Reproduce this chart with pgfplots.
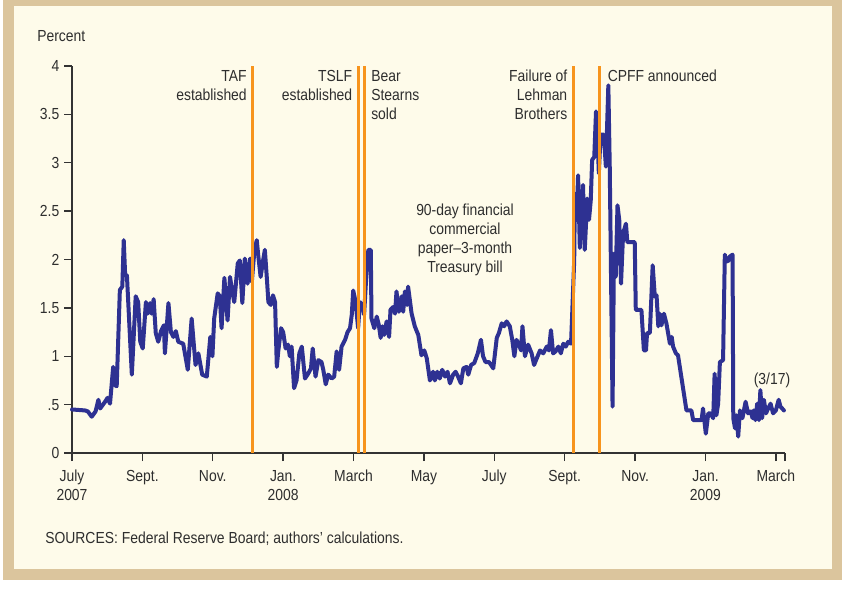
\documentclass[border=0pt]{standalone}
\usepackage{fontspec}
\setmainfont{Liberation Sans}[FakeStretch=0.87]
\usepackage{pgfplots}
\pgfplotsset{compat=1.18}
\definecolor{tanc}{HTML}{DBC59D}
\definecolor{creamc}{HTML}{FEFBEA}
\definecolor{bluec}{HTML}{2E3192}
\definecolor{orangec}{HTML}{F7941D}
\definecolor{txtc}{HTML}{2E2E2E}
\definecolor{axisc}{HTML}{333333}
\newcommand{\lblfont}{\fontsize{12pt}{14pt}\selectfont}
\begin{document}
\begin{tikzpicture}
\begin{scope}[x=0.75pt,y=-0.75pt]
\fill[white] (0,0) rectangle (853,593);
\fill[tanc] (3,0) rectangle (842,580);
\fill[creamc] (14,6) rectangle (832,569);
\end{scope}
\begin{axis}[
  at={(54pt,-339.75pt)}, anchor=south west,
  scale only axis, width=534.75pt, height=290.25pt,
  xmin=0, xmax=20.26, ymin=0, ymax=4,
  axis lines=left,
  axis line style={-, draw=axisc, line width=1.1pt},
  tick align=outside, major tick length=6pt,
  tick style={draw=axisc, line width=1pt},
  xtick={0,2,4,6,8,10,12,14,16,18,20},
  xticklabels={{July\\2007},{Sept.},{Nov.},{Jan.\\2008},{March},{May},{July},{Sept.},{Nov.},{Jan.\\2009},{March}},
  extra x ticks={20.26}, extra x tick labels={},
  extra x tick style={tick style={draw=axisc, line width=1pt}},
  ytick={0,0.5,1,1.5,2,2.5,3,3.5,4},
  yticklabels={0,.5,1,1.5,2,2.5,3,3.5,4},
  tick label style={font=\lblfont, text=txtc},
  xticklabel style={align=center, yshift=-3.5pt},
  /pgf/number format/assume math mode=true,
  clip=false,
]
\addplot[bluec, line width=3pt, line join=round, line cap=round] table {
x y
0.00 0.45
0.37 0.44
0.45 0.43
0.56 0.375
0.67 0.43
0.75 0.55
0.80 0.46
0.94 0.53
1.01 0.57
1.08 0.51
1.17 0.89
1.22 0.70
1.27 0.69
1.36 1.685
1.43 1.72
1.47 2.20
1.51 1.84
1.56 1.84
1.70 0.81
1.81 1.62
1.88 1.56
1.94 1.15
2.01 1.08
2.10 1.56
2.15 1.44
2.22 1.55
2.26 1.44
2.32 1.59
2.38 1.24
2.45 1.15
2.53 1.26
2.61 1.32
2.64 1.03
2.74 1.55
2.81 1.25
2.88 1.20
2.95 1.26
3.02 1.15
3.16 1.13
3.29 0.86
3.40 1.39
3.51 0.91
3.59 1.03
3.70 0.81
3.83 0.79
3.93 1.20
3.99 1.00
4.04 1.39
4.14 1.65
4.20 1.62
4.25 1.29
4.33 1.81
4.42 1.37
4.49 1.82
4.54 1.70
4.61 1.56
4.71 1.96
4.77 1.99
4.84 1.55
4.91 2.01
4.99 1.75
5.06 2.01
5.11 1.77
5.18 2.08
5.25 2.20
5.29 2.05
5.36 1.82
5.43 1.99
5.48 2.10
5.54 1.79
5.58 1.56
5.65 1.53
5.71 1.63
5.77 1.56
5.82 0.89
5.86 1.05
5.94 1.29
6.00 1.25
6.07 1.08
6.14 1.12
6.19 1.00
6.24 1.10
6.31 0.67
6.38 0.75
6.46 1.03
6.53 1.10
6.62 0.77
6.71 0.82
6.79 0.875
6.84 1.08
6.92 0.79
7.00 0.96
7.09 0.94
7.14 0.86
7.21 0.71
7.28 0.81
7.38 0.77
7.45 0.79
7.52 1.05
7.59 0.86
7.66 1.10
7.76 1.17
7.83 1.25
7.90 1.29
7.95 1.43
7.99 1.68
8.06 1.56
8.13 1.29
8.18 1.56
8.25 1.53
8.30 1.43
8.35 1.75
8.42 2.10
8.49 2.10
8.51 1.39
8.59 1.29
8.66 1.41
8.72 1.32
8.77 1.19
8.82 1.31
8.87 1.22
8.94 1.36
9.01 1.20
9.05 1.48
9.13 1.51
9.18 1.44
9.22 1.67
9.29 1.46
9.37 1.62
9.41 1.46
9.46 1.67
9.52 1.53
9.55 1.72
9.65 1.44
9.74 1.31
9.84 1.22
9.93 1.01
10.01 1.06
10.08 0.98
10.17 0.75
10.26 0.84
10.31 0.75
10.38 0.84
10.45 0.77
10.52 0.86
10.60 0.79
10.67 0.84
10.74 0.72
10.83 0.81
10.90 0.84
10.97 0.79
11.05 0.72
11.12 0.875
11.21 0.89
11.26 0.81
11.34 0.91
11.43 0.93
11.53 1.03
11.62 1.17
11.68 1.00
11.75 0.94
11.85 0.94
11.97 0.875
12.07 1.19
12.13 1.24
12.21 1.34
12.28 1.31
12.35 1.36
12.44 1.31
12.51 1.17
12.57 1.00
12.63 1.17
12.70 1.12
12.76 1.06
12.80 1.31
12.87 1.00
12.96 1.12
13.06 1.03
13.13 0.91
13.23 1.00
13.30 1.06
13.39 1.03
13.49 1.10
13.55 1.06
13.61 1.27
13.67 1.03
13.74 1.05
13.82 1.10
13.89 1.03
13.96 1.13
14.03 1.10
14.10 1.15
14.18 1.13
14.21 1.41
14.27 1.99
14.29 2.68
14.34 2.41
14.38 2.87
14.43 2.12
14.48 2.51
14.52 2.77
14.57 2.10
14.64 2.63
14.69 2.41
14.74 2.61
14.78 3.03
14.84 3.06
14.89 3.53
14.93 3.30
14.97 2.89
15.02 3.29
15.11 3.29
15.17 2.96
15.24 3.80
15.28 2.96
15.36 0.48
15.40 2.06
15.45 1.82
15.50 2.56
15.55 2.41
15.60 1.75
15.66 2.27
15.74 2.37
15.78 2.18
15.99 2.18
16.02 1.48
16.18 1.48
16.25 1.06
16.31 1.06
16.34 1.24
16.42 1.24
16.50 1.94
16.56 1.62
16.61 1.63
16.66 1.31
16.70 1.44
16.75 1.32
16.82 1.44
16.89 1.34
16.99 1.13
17.04 1.20
17.08 1.10
17.16 1.03
17.22 1.01
17.46 0.44
17.60 0.44
17.65 0.34
17.89 0.34
17.93 0.46
18.01 0.20
18.08 0.41
18.14 0.41
18.22 0.36
18.26 0.82
18.31 0.39
18.36 0.51
18.41 0.94
18.50 0.96
18.55 2.05
18.60 1.98
18.66 1.99
18.69 2.03
18.77 2.05
18.79 0.36
18.84 0.255
18.88 0.39
18.93 0.17
18.98 0.44
19.05 0.36
19.14 0.53
19.21 0.41
19.28 0.43
19.34 0.36
19.37 0.44
19.42 0.34
19.47 0.51
19.52 0.34
19.56 0.65
19.61 0.36
19.66 0.55
19.72 0.41
19.78 0.46
19.85 0.51
19.92 0.41
20.00 0.44
20.08 0.55
20.13 0.48
20.23 0.44
};
\addplot[orangec, line width=2.25pt] coordinates {(5.13,0) (5.13,4)};
\addplot[orangec, line width=2.25pt] coordinates {(8.13,0) (8.13,4)};
\addplot[orangec, line width=2.25pt] coordinates {(8.32,0) (8.32,4)};
\addplot[orangec, line width=2.25pt] coordinates {(14.25,0) (14.25,4)};
\addplot[orangec, line width=2.25pt] coordinates {(15.00,0) (15.00,4)};
\end{axis}
\begin{scope}[x=0.75pt,y=-0.75pt, every node/.style={font=\lblfont, text=txtc, inner sep=0pt}]
\node[anchor=base west] at (37,41) {Percent};
% TAF
\node[anchor=base east] at (247,81) {TAF};
\node[anchor=base east] at (247,100) {established};
% TSLF
\node[anchor=base east] at (352.5,81) {TSLF};
\node[anchor=base east] at (352.5,100) {established};
% Bear Stearns
\node[anchor=base west] at (371,81) {Bear};
\node[anchor=base west] at (371,100) {Stearns};
\node[anchor=base west] at (371,119) {sold};
% Lehman
\node[anchor=base east] at (567.5,81) {Failure of};
\node[anchor=base east] at (567.5,100) {Lehman};
\node[anchor=base east] at (567.5,119) {Brothers};
% CPFF
\node[anchor=base west] at (607.5,81) {CPFF announced};
% series label
\node[anchor=base] at (465,215) {90-day financial};
\node[anchor=base] at (465,234) {commercial};
\node[anchor=base] at (465,253) {paper–3-month};
\node[anchor=base] at (465,272.5) {Treasury bill};
% end label
\node[anchor=base] at (772,384) {(3/17)};
% source
\node[anchor=base west] at (45,543.5) {SOURCES: Federal Reserve Board; authors’ calculations.};
\end{scope}
\end{tikzpicture}
\end{document}
